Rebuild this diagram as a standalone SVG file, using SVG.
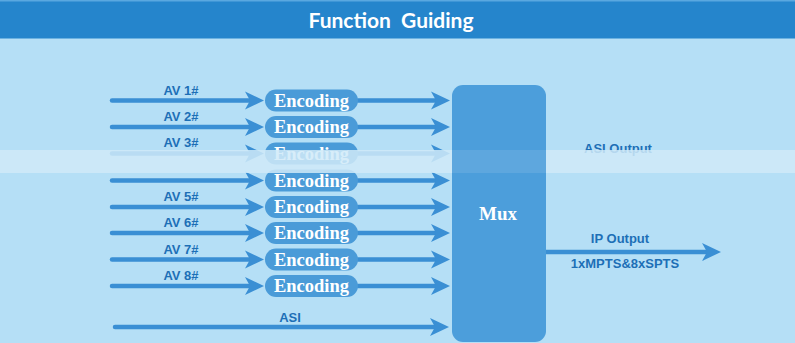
<svg xmlns="http://www.w3.org/2000/svg" width="795" height="343" viewBox="0 0 795 343">
<style>
.lbl{font-family:"Liberation Sans",Arial,sans-serif;font-weight:bold;font-size:13px;fill:#1d6fb6;text-anchor:middle}
.pill{fill:#4a9bd8}
.ptxt{font-family:"Liberation Serif","Times New Roman",serif;font-weight:bold;font-size:18.5px;fill:#ffffff;text-anchor:middle}
.ln{stroke:#3a8fd4;stroke-width:4.5;fill:none;stroke-linecap:round;marker-end:url(#ah)}
.band{fill:#d0eaf8}
</style>
<defs>
<marker id="ah" markerUnits="userSpaceOnUse" markerWidth="26" markerHeight="22" viewBox="-2 -11 26 22" refX="10" refY="0" orient="auto">
<path d="M0,-9 L19,0 L0,9 L5,0 Z" fill="#3a8fd4"/>
</marker>
</defs>
<rect x="0" y="0" width="795" height="343" fill="#b5dff6"/>
<rect x="0" y="0" width="795" height="38.5" fill="#2585cc"/>
<rect x="0" y="0" width="795" height="1.5" fill="#5aa8e0"/>
<text x="391" y="28" font-family="Lato,'Open Sans',sans-serif" font-weight="bold" font-size="21" fill="#ffffff" text-anchor="middle" xml:space="preserve">Function  Guiding</text>

<g id="connectors">
<line class="ln" x1="112" y1="100.5" x2="255" y2="100.5"/>
<line class="ln" x1="112" y1="127" x2="255" y2="127"/>
<line class="ln" x1="112" y1="153.5" x2="255" y2="153.5"/>
<line class="ln" x1="112" y1="180.5" x2="255" y2="180.5"/>
<line class="ln" x1="112" y1="207" x2="255" y2="207"/>
<line class="ln" x1="112" y1="233" x2="255" y2="233"/>
<line class="ln" x1="112" y1="259.5" x2="255" y2="259.5"/>
<line class="ln" x1="112" y1="286" x2="255" y2="286"/>
<line class="ln" x1="358" y1="100.5" x2="441" y2="100.5"/>
<line class="ln" x1="358" y1="127" x2="441" y2="127"/>
<line class="ln" x1="358" y1="153.5" x2="441" y2="153.5"/>
<line class="ln" x1="358" y1="180.5" x2="441" y2="180.5"/>
<line class="ln" x1="358" y1="207" x2="441" y2="207"/>
<line class="ln" x1="358" y1="233" x2="441" y2="233"/>
<line class="ln" x1="358" y1="259.5" x2="441" y2="259.5"/>
<line class="ln" x1="358" y1="286" x2="441" y2="286"/>
<line class="ln" x1="115" y1="327" x2="440" y2="327"/>
<line class="ln" x1="546" y1="252" x2="712" y2="252" style="stroke-linecap:butt"/>
</g>

<g id="labels">
<text class="lbl" x="181" y="95">AV 1#</text>
<text class="lbl" x="181" y="121">AV 2#</text>
<text class="lbl" x="181" y="147">AV 3#</text>
<text class="lbl" x="181" y="201">AV 5#</text>
<text class="lbl" x="181" y="227">AV 6#</text>
<text class="lbl" x="181" y="254">AV 7#</text>
<text class="lbl" x="181" y="280">AV 8#</text>
<text class="lbl" x="290" y="322">ASI</text>
<text class="lbl" x="618" y="153">ASI Output</text>
<text class="lbl" x="620" y="243">IP Output</text>
<text class="lbl" x="625" y="268">1xMPTS&amp;8xSPTS</text>
</g>

<g id="enc1"><rect class="pill" x="265" y="89.5" width="93" height="22" rx="11"/><text class="ptxt" x="311.5" y="106.5">Encoding</text></g>
<g id="enc2"><rect class="pill" x="265" y="116" width="93" height="22" rx="11"/><text class="ptxt" x="311.5" y="133">Encoding</text></g>
<g id="enc3"><rect class="pill" x="265" y="142.5" width="93" height="22" rx="11"/><text class="ptxt" x="311.5" y="159.5">Encoding</text></g>
<g id="enc4"><rect class="pill" x="265" y="169.5" width="93" height="22" rx="11"/><text class="ptxt" x="311.5" y="186.5">Encoding</text></g>
<g id="enc5"><rect class="pill" x="265" y="196" width="93" height="22" rx="11"/><text class="ptxt" x="311.5" y="213">Encoding</text></g>
<g id="enc6"><rect class="pill" x="265" y="222" width="93" height="22" rx="11"/><text class="ptxt" x="311.5" y="239">Encoding</text></g>
<g id="enc7"><rect class="pill" x="265" y="248.5" width="93" height="22" rx="11"/><text class="ptxt" x="311.5" y="265.5">Encoding</text></g>
<g id="enc8"><rect class="pill" x="265" y="275" width="93" height="22" rx="11"/><text class="ptxt" x="311.5" y="292">Encoding</text></g>

<g id="mux"><rect x="452" y="85" width="94" height="257" rx="11" fill="#4c9edb"/><text x="498" y="219.5" font-family="'Liberation Serif','Times New Roman',serif" font-weight="bold" font-size="19" fill="#ffffff" text-anchor="middle">Mux</text></g>

<rect class="band" x="0" y="150" width="452" height="23" fill-opacity="0.85"/>
<rect class="band" x="546" y="150" width="249" height="23" fill-opacity="0.85"/>
<rect x="452" y="150" width="94" height="23" fill="#ffffff" fill-opacity="0.1"/>
</svg>
